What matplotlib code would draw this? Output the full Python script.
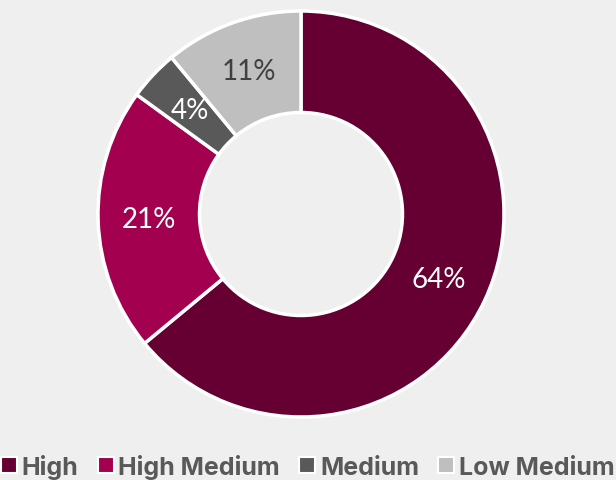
import matplotlib.pyplot as plt
from matplotlib.lines import Line2D

categories = ["High", "High Medium", "Medium", "Low Medium"]
shares = [64, 21, 4, 11]
colors = ["#660033", "#A3004F", "#595959", "#BFBFBF"]
label_colors = ["white", "white", "white", "#404040"]

bg = "#efefef"
fig = plt.figure(figsize=(6.16, 4.81), dpi=100, facecolor=bg)
ax = fig.add_axes([98 / 616, 63 / 481, 406 / 616, 406 / 481])
ax.set_facecolor(bg)

wedges, texts, autotexts = ax.pie(
    shares, colors=colors, startangle=90, counterclock=False,
    autopct="%d%%", pctdistance=0.75,
    wedgeprops=dict(width=0.5, edgecolor="white", linewidth=2.5),
)
for t, c in zip(autotexts, label_colors):
    t.set_color(c)
    t.set_fontsize(20)
    t.set_family("Lato")
ax.set_xlim(-1, 1)
ax.set_ylim(-1, 1)
ax.axis("off")

handles = [Line2D([], [], marker="s", linestyle="", markersize=11,
                  markerfacecolor=c, markeredgecolor="white", markeredgewidth=1.5)
           for c in colors]
leg = fig.legend(handles, categories, loc="lower center", bbox_to_anchor=(0.5, -0.045),
                 ncol=4, frameon=False, handlelength=0.6, handletextpad=0.2,
                 columnspacing=0.8, prop=dict(family="Inter", weight="bold", size=18))
for t in leg.get_texts():
    t.set_color("#595959")

fig.savefig("out.png", dpi=100, facecolor=bg)
